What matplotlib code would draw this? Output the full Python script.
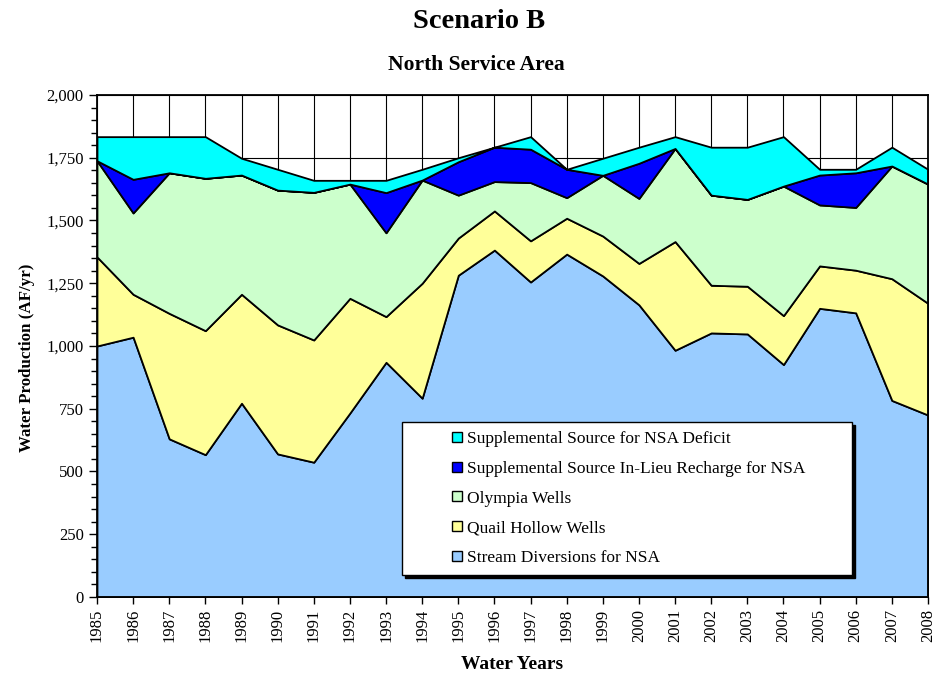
import numpy as np
import matplotlib.pyplot as plt
from matplotlib.patches import Patch, Rectangle
from matplotlib.legend_handler import HandlerPatch
from matplotlib.ticker import MultipleLocator, FuncFormatter

years = list(range(1985, 2009))

stream = [1000, 1035, 630, 567, 772, 570, 537, 733, 935, 792, 1282, 1382,
          1255, 1366, 1279, 1164, 983, 1052, 1048, 926, 1150, 1132, 783, 725]
quail = [355, 171, 500, 494, 434, 514, 487, 457, 182, 458, 148, 156,
         164, 143, 159, 165, 433, 190, 190, 195, 169, 170, 485, 445]
olympia = [383, 324, 560, 607, 475, 537, 588, 455, 334, 411, 171, 117,
           232, 82, 242, 259, 371, 359, 346, 516, 243, 250, 449, 475]
inlieu = [0, 134, 0, 0, 0, 0, 0, 0, 160, 0, 133, 137,
          133, 113, 0, 140, 0, 0, 0, 0, 119, 138, 0, 0]
deficit = [96, 170, 144, 166, 67, 83, 48, 15, 49, 43, 16, 0,
           50, 0, 68, 64, 47, 191, 208, 197, 23, 14, 75, 59]

labels = ["Stream Diversions for NSA", "Quail Hollow Wells", "Olympia Wells",
          "Supplemental Source In-Lieu Recharge for NSA",
          "Supplemental Source for NSA Deficit"]
colors = ["#99CCFF", "#FFFF99", "#CCFFCC", "#0000FF", "#00FFFF"]

plt.rcParams['font.family'] = ['Liberation Serif', 'DejaVu Serif']

fig = plt.figure(figsize=(9.48, 6.78), dpi=100)
ax = fig.add_axes([0.1023, 0.1195, 0.8766, 0.7404])

ax.stackplot(years, stream, quail, olympia, inlieu, deficit,
             colors=colors, edgecolor='black', linewidth=1.3)

ax.set_xlim(1985, 2008)
ax.set_ylim(0, 2000)
ax.set_xticks(years)
ax.set_xticklabels([str(y) for y in years], rotation=90, fontsize=12)
ax.yaxis.set_major_locator(MultipleLocator(250))
ax.yaxis.set_minor_locator(MultipleLocator(50))
ax.yaxis.set_major_formatter(FuncFormatter(lambda v, p: "{:,.0f}".format(v)))
ax.tick_params(axis='y', labelsize=12, length=6, width=1, direction='out')
ax.tick_params(axis='y', which='minor', length=4, width=1)
ax.tick_params(axis='x', length=5, width=1, direction='out')

ax.set_axisbelow(True)
ax.grid(True, color='black', linewidth=0.8)
for s in ax.spines.values():
    s.set_linewidth(1.3)

ax.set_ylabel("Water Production (AF/yr)", fontsize=12.2, fontweight='bold')
ax.yaxis.set_label_coords(-0.0745, 0.476)
ax.set_xlabel("Water Years", fontsize=14, fontweight='bold', labelpad=10)

fig.text(0.505, 0.969, "Scenario B", ha='center', va='center', fontsize=20.5, fontweight='bold')
fig.text(0.503, 0.904, "North Service Area", ha='center', va='center', fontsize=15.5, fontweight='bold')


# small square marker sitting at the right end of the handle slot
def square(legend, orig_handle, xdescent, ydescent, width, height, fontsize):
    s = 10 * 72 / 100.
    return Rectangle((width - xdescent - s, -ydescent + (height - s) / 2), s, s)


handles = [Patch(facecolor=c, edgecolor='black', linewidth=1) for c in colors][::-1]
leg = ax.legend(handles, labels[::-1], loc='lower left',
                bbox_to_anchor=(0.367, 0.0438, 0.5415, 0.305), mode='expand',
                fontsize=12.5, frameon=True, fancybox=False, edgecolor='black',
                framealpha=1, handlelength=2.95, handleheight=0.6,
                handletextpad=0.29, labelspacing=0.8, borderpad=0.5,
                borderaxespad=0, shadow={'color': 'black', 'alpha': 1},
                handler_map={Patch: HandlerPatch(patch_func=square)})
leg.get_frame().set_linewidth(1)
leg._legend_box.align = 'left'

fig.savefig("out.png", dpi=100)
